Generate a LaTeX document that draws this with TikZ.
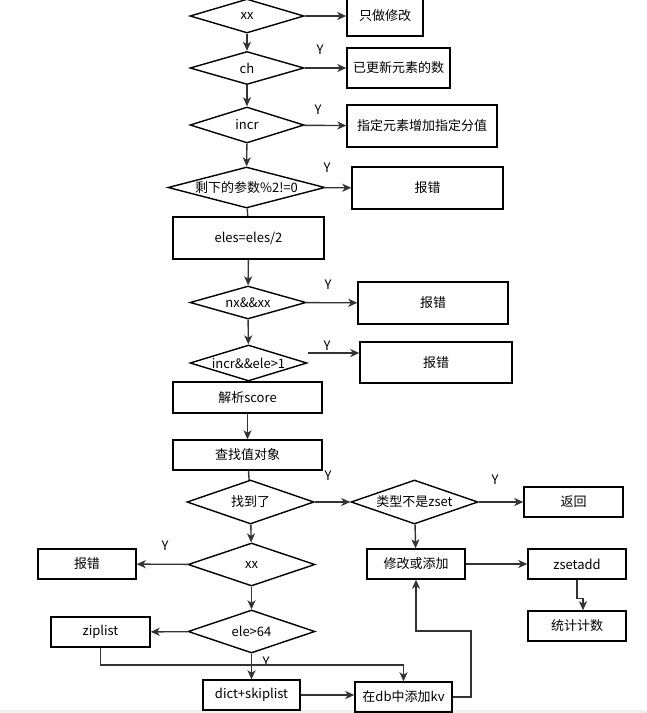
\documentclass[tikz,border=0pt]{standalone}
\usepackage{fontspec}
\setmainfont{Noto Sans CJK SC}
\usetikzlibrary{shapes.geometric, arrows.meta}
\tikzset{>={Stealth[length=9pt, width=8pt, inset=2.5pt]}}
\tikzset{
    box/.style={draw, line width=1.4pt, inner sep=0pt, minimum width=#1, minimum height=30pt},
    dia/.style={draw, diamond, line width=1.4pt, inner sep=0pt},
    con/.style={line width=1.4pt, black!80},
    ylab/.style={inner sep=0pt}
}
\newcommand{\dl}[1]{\makebox[0pt]{#1}}

\begin{document}
\begin{tikzpicture}[x=1pt, y=-1pt, font=\fontsize{13}{15}\selectfont]
    \useasboundingbox (0,0) rectangle (647,713);
    \fill [black!6] (0,710) rectangle (647,713);

    % upper column
    \node [dia, minimum width=114pt, minimum height=34pt] (d1) at (247,16) {\dl{xx}};
    \node [dia, minimum width=114pt, minimum height=33pt] (d2) at (247,68) {\dl{ch}};
    \node [dia, minimum width=114pt, minimum height=36pt] (d3) at (247,125) {\dl{incr}};
    \node [dia, minimum width=157pt, minimum height=41pt] (d4) at (246.5,187.5) {\dl{剩下的参数\%2!=0}};
    \node [box=151pt, minimum height=42pt] (p1) at (248.5,238) {eles=eles/2};
    \node [dia, minimum width=116pt, minimum height=33pt] (d5) at (248,302.5) {\dl{nx\&\&xx}};
    \node [dia, minimum width=117pt, minimum height=36pt] (d6) at (248.5,363) {\dl{incr\&\&ele>1}};
    \node [box=149pt, minimum height=31pt] (p2) at (247.5,397.5) {解析score};
    \node [box=149pt] (p3) at (247.5,455) {查找值对象};

    \node [box=76pt, minimum height=40pt] (b1) at (385,16) {只做修改};
    \node [box=103pt, minimum height=40pt] (b2) at (398.5,68) {已更新元素的数};
    \node [box=150pt, minimum height=42pt] (b3) at (422,126) {指定元素增加指定分值};
    \node [box=151pt, minimum height=42pt] (b4) at (427.5,188) {报错};
    \node [box=150pt, minimum height=42pt] (b5) at (433,303) {报错};
    \node [box=152pt, minimum height=41pt] (b6) at (436,362.5) {报错};

    % lower part
    \node [dia, minimum width=127pt, minimum height=44pt] (d7) at (250.5,502) {\dl{找到了}};
    \node [dia, minimum width=127pt, minimum height=44pt] (d8) at (414.5,502) {\dl{类型不是zset}};
    \node [dia, minimum width=127pt, minimum height=43pt] (d9) at (251.5,564.5) {\dl{xx}};
    \node [dia, minimum width=127pt, minimum height=43pt] (d10) at (251.5,631.5) {\dl{ele>64}};

    \node [box=99pt] (r1) at (573.5,502) {返回};
    \node [box=98pt] (p4) at (416,564) {修改或添加};
    \node [box=98pt] (p5) at (577,564) {zsetadd};
    \node [box=98pt] (p6) at (577,626) {统计计数};
    \node [box=98pt] (e1) at (87,564) {报错};
    \node [box=99pt] (p7) at (100.5,632) {ziplist};
    \node [box=97pt] (p8) at (251.5,695) {dict+skiplist};
    \node [box=97pt] (p9) at (403.5,697) {在db中添加kv};

    \coordinate (k1) at (403.5,665);
    \coordinate (k2) at (471,631);

    % Y labels
    \node [ylab] (y1) at (320,-4) {Y};
    \node [ylab] (y2) at (320,50) {Y};
    \node [ylab] (y3) at (318,110) {Y};
    \node [ylab] (y4) at (327,168) {Y};
    \node [ylab] (y5) at (328,285) {Y};
    \node [ylab] (y6) at (327,346) {Y};
    \node [ylab] (y7) at (328,476) {Y};
    \node [ylab] (y8) at (495,480) {Y};
    \node [ylab] (y9) at (165,546) {Y};
    \node [ylab] (y10) at (266,662) {Y};

    % connectors
    \draw [con, ->] (d1) -- (b1);
    \draw [con, ->] (d1) -- (d2);
    \draw [con, ->] (d2) -- (b2);
    \draw [con, ->] (d2) -- (d3);
    \draw [con, ->] (d3) -- (b3);
    \draw [con, ->] (d3) -- (d4);
    \draw [con, ->] (d4) -- (b4);
    \draw [con] (d4) -- (p1);
    \draw [con, ->] (p1) -- (d5);
    \draw [con, ->] (d5) -- (b5);
    \draw [con, ->] (d5) -- (d6);
    \draw [con, ->] ([yshift=10pt]d6.east) -- ([yshift=10pt]d6.east -| b6.west);
    \draw [con, ->] (p2) -- (p3);
    \draw [con] (p3) -- (d7);
    \draw [con, ->] (d7) -- (d8);
    \draw [con, ->] (d8) -- (r1);
    \draw [con, ->] (d8) -- (p4);
    \draw [con, ->] (d7) -- (d9);
    \draw [con, ->] (d9) -- (e1);
    \draw [con, ->] (d9) -- (d10);
    \draw [con, ->] (d10) -- (p7);
    \draw [con, ->] (d10) -- (p8);
    \draw [con, ->] (p7.south) |- (k1) -- (p9.north);
    \draw [con, ->] (p8.east) -- (p8.east -| p9.west);
    \draw [con, ->] (p9.east) -| (k2) -| (p4.south);
    \draw [con, ->] (p4) -- (p5);
    \draw [con, ->] (p5.south) -- ++(0,19) -| ([xshift=6pt]p6.north);
\end{tikzpicture}
\end{document}
